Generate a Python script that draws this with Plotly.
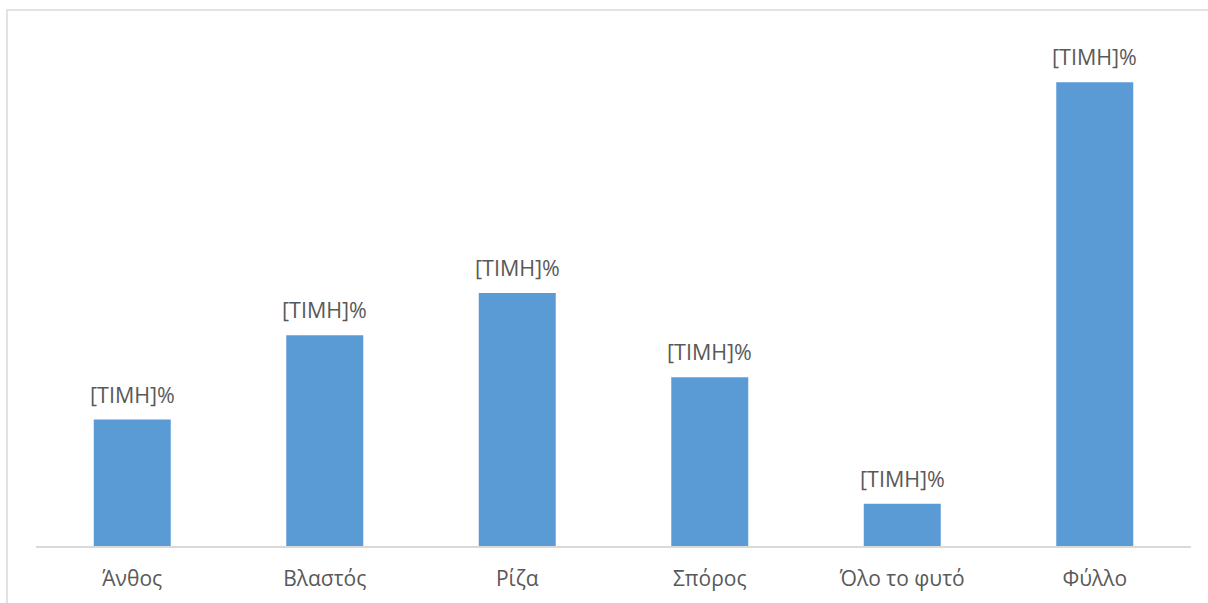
import plotly.graph_objects as go

# Plant parts and their counts
categories = ["Άνθος", "Βλαστός", "Ρίζα", "Σπόρος", "Όλο το φυτό", "Φύλλο"]
values = [3, 5, 6, 4, 1, 11]
bar_labels = ["[ΤΙΜΗ]%"] * len(categories)

BAR_COLOR = "#5b9bd5"
TEXT_COLOR = "#595959"
LINE_COLOR = "#d9d9d9"
FONT = "Open Sans, Segoe UI, DejaVu Sans, sans-serif"
FONT_SIZE = 21.5

fig = go.Figure(
    go.Bar(
        x=categories,
        y=values,
        marker=dict(color=BAR_COLOR, line=dict(width=0)),
        hoverinfo="x+y",
    )
)

# value labels sitting above each bar
for cat, val, lab in zip(categories, values, bar_labels):
    fig.add_annotation(
        x=cat,
        y=val,
        text=lab,
        showarrow=False,
        xanchor="center",
        yanchor="bottom",
        yshift=9,
        font=dict(family=FONT, size=FONT_SIZE, color=TEXT_COLOR),
    )

fig.update_layout(
    width=1208,
    height=603,
    margin=dict(l=36, r=17, t=40, b=57),
    paper_bgcolor="white",
    plot_bgcolor="white",
    bargap=0.6,
    showlegend=False,
    font=dict(family=FONT, size=FONT_SIZE, color=TEXT_COLOR),
    xaxis=dict(
        automargin=False,
        showline=True,
        linecolor=LINE_COLOR,
        linewidth=1.5,
        showgrid=False,
        ticks="",
        ticklabelstandoff=13,
        tickfont=dict(family=FONT, size=21, color=TEXT_COLOR),
    ),
    yaxis=dict(
        automargin=False,
        range=[0, 12],
        visible=False,
        showgrid=False,
        zeroline=False,
    ),
    shapes=[
        # chart frame
        dict(
            type="rect",
            xref="paper",
            yref="paper",
            x0=-0.0251,
            x1=1.2,
            y0=-0.3,
            y1=1.0593,
            line=dict(color=LINE_COLOR, width=1.5),
            fillcolor="rgba(0,0,0,0)",
            layer="below",
        )
    ],
)

fig.write_html("out.html")
